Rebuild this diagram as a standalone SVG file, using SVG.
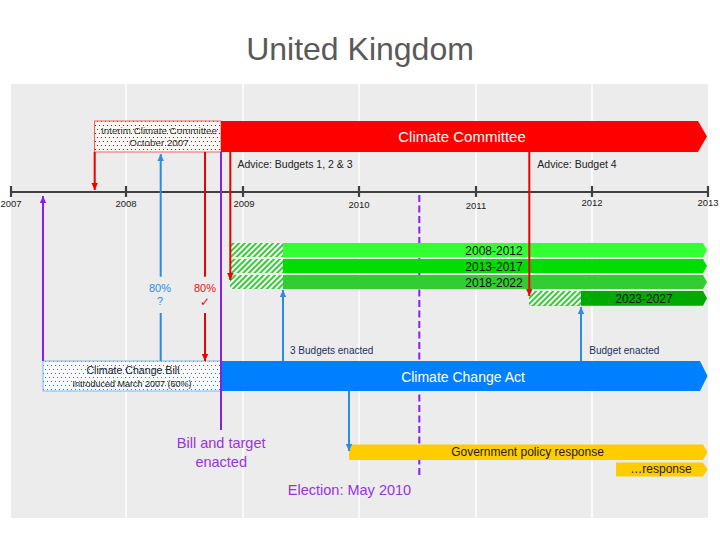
<svg xmlns="http://www.w3.org/2000/svg" width="720" height="540" viewBox="0 0 720 540">
<style>
text{font-family:"Liberation Sans",Arial,sans-serif}
.yr{font-size:9.5px;fill:#222;text-anchor:middle}
.lbl{font-size:10.5px;fill:#222}
.nv{font-size:10px;fill:#1f2f5f}
.grid{stroke:#ffffff;stroke-width:1.5}
.red{stroke:#ee0000;stroke-width:2;fill:none}
.blu{stroke:#2b8ce8;stroke-width:2;fill:none}
.pur{stroke:#8a1ef0;stroke-width:2;fill:none}
.bar{font-size:12px;fill:#111;text-anchor:middle}
.ptxt{font-size:14.5px;fill:#9933e0;text-anchor:middle}
</style>
<defs>
<pattern id="dotR" width="8" height="8" patternUnits="userSpaceOnUse">
<rect width="8" height="8" fill="#fff8f8"/>
<rect x="1" y="1" width="1" height="1" fill="#e00000"/>
<rect x="5" y="1" width="1" height="1" fill="#e00000"/>
<rect x="3" y="5" width="1" height="1" fill="#e00000"/>
<rect x="7" y="5" width="1" height="1" fill="#e00000"/>
</pattern>
<pattern id="dotB" width="8" height="8" patternUnits="userSpaceOnUse">
<rect width="8" height="8" fill="#f8fbff"/>
<rect x="1" y="1" width="1" height="1" fill="#1a7ae0"/>
<rect x="5" y="1" width="1" height="1" fill="#1a7ae0"/>
<rect x="3" y="5" width="1" height="1" fill="#1a7ae0"/>
<rect x="7" y="5" width="1" height="1" fill="#1a7ae0"/>
</pattern>
<pattern id="hatch" width="4" height="4" patternUnits="userSpaceOnUse" patternTransform="rotate(45)">
<rect width="4" height="4" fill="#ffffff"/>
<rect width="2" height="4" fill="#33cc33"/>
</pattern>
<marker id="aR" markerWidth="8" markerHeight="8" refX="7" refY="4" orient="auto" markerUnits="userSpaceOnUse">
<path d="M0,0.8 L7,4 L0,7.2 Z" fill="#ee0000"/>
</marker>
<marker id="aB" markerWidth="8" markerHeight="8" refX="7" refY="4" orient="auto" markerUnits="userSpaceOnUse">
<path d="M0,0.8 L7,4 L0,7.2 Z" fill="#2b8ce8"/>
</marker>
<marker id="aP" markerWidth="8" markerHeight="8" refX="7" refY="4" orient="auto" markerUnits="userSpaceOnUse">
<path d="M0,0.8 L7,4 L0,7.2 Z" fill="#8a1ef0"/>
</marker>
</defs>

<rect width="720" height="540" fill="#ffffff"/>
<text x="360" y="60" font-size="32" fill="#595959" text-anchor="middle">United Kingdom</text>

<g id="background">
<rect x="11" y="84" width="697" height="434" fill="#ececec"/>
<line class="grid" x1="126" y1="84" x2="126" y2="518"/>
<line class="grid" x1="243" y1="84" x2="243" y2="518"/>
<line class="grid" x1="359" y1="84" x2="359" y2="518"/>
<line class="grid" x1="476" y1="84" x2="476" y2="518"/>
<line class="grid" x1="592" y1="84" x2="592" y2="518"/>
</g>

<g id="axis">
<line x1="11" y1="192" x2="708" y2="192" stroke="#404040" stroke-width="2.2"/>
<g stroke="#404040" stroke-width="2.2">
<line x1="11" y1="186" x2="11" y2="197"/>
<line x1="126" y1="186" x2="126" y2="197"/>
<line x1="243" y1="186" x2="243" y2="197"/>
<line x1="359" y1="186" x2="359" y2="197"/>
<line x1="476" y1="186" x2="476" y2="197"/>
<line x1="592" y1="186" x2="592" y2="197"/>
<line x1="708" y1="186" x2="708" y2="197"/>
</g>
<text class="yr" x="11" y="207">2007</text>
<text class="yr" x="126" y="207">2008</text>
<text class="yr" x="244" y="207">2009</text>
<text class="yr" x="359" y="208">2010</text>
<text class="yr" x="476" y="209">2011</text>
<text class="yr" x="592" y="206">2012</text>
<text class="yr" x="708" y="206">2013</text>
</g>

<g id="election-marker">
<line class="pur" x1="419.3" y1="195" x2="419.3" y2="478" stroke-dasharray="7 3.5"/>
</g>

<g id="interim">
<rect x="94.5" y="121" width="126.5" height="31" fill="url(#dotR)" stroke="#f06060" stroke-width="1"/>
<text x="159" y="134" font-size="9.8" fill="#333" text-anchor="middle">Interim Climate Committee</text>
<text x="159" y="146" font-size="9.8" fill="#333" text-anchor="middle">October 2007</text>
</g>

<g id="climate-committee">
<polygon points="221,121 698,121 707,136.5 698,152 221,152" fill="#ff0000"/>
<text x="462" y="142.3" font-size="15" fill="#ffffff" text-anchor="middle">Climate Committee</text>
</g>

<g id="bill">
<rect x="43" y="361" width="178" height="30" fill="url(#dotB)" stroke="#7ab8f0" stroke-width="1"/>
<text x="133" y="374.3" font-size="10.6" fill="#222" text-anchor="middle">Climate Change Bill</text>
<text x="132" y="386.7" font-size="9" fill="#222" text-anchor="middle">Introduced March 2007 (60%)</text>
</g>

<g id="climate-change-act">
<polygon points="221,361 700,361 707.5,376 700,391 221,391" fill="#0080ff"/>
<text x="463" y="381.7" font-size="14" fill="#ffffff" text-anchor="middle">Climate Change Act</text>
</g>

<g id="budget-2008-2012">
<polygon points="230,243 703,243 707,250 703,257 230,257" fill="#33ff33"/>
<rect x="230" y="243" width="53" height="14" fill="url(#hatch)"/>
<text class="bar" x="494" y="255">2008-2012</text>
</g>
<g id="budget-2013-2017">
<polygon points="230,259 703,259 707,266 703,273 230,273" fill="#00dd00"/>
<rect x="230" y="259" width="53" height="14" fill="url(#hatch)"/>
<text class="bar" x="494" y="270.7">2013-2017</text>
</g>
<g id="budget-2018-2022">
<polygon points="230,275 703,275 707,282 703,289 230,289" fill="#33cc33"/>
<rect x="230" y="275" width="53" height="14" fill="url(#hatch)"/>
<text class="bar" x="494" y="286.7">2018-2022</text>
</g>
<g id="budget-2023-2027">
<polygon points="529,291 703,291 707,298.3 703,305.7 529,305.7" fill="#00aa00"/>
<rect x="529" y="291" width="52" height="14.7" fill="url(#hatch)"/>
<text class="bar" x="644" y="302.7">2023-2027</text>
</g>

<g id="gov-response">
<polygon points="349,444.5 703,444.5 707.5,452.2 703,460 349,460" fill="#ffcc00"/>
<text x="527.5" y="456" font-size="12" fill="#222" text-anchor="middle">Government policy response</text>
</g>
<g id="response">
<polygon points="616,462.5 703,462.5 707.5,469.5 703,476.5 616,476.5" fill="#ffcc00"/>
<text x="661" y="473.3" font-size="12" fill="#222" text-anchor="middle">…response</text>
</g>

<g id="connectors">
<line class="red" x1="94.7" y1="152" x2="94.7" y2="190" marker-end="url(#aR)"/>
<line class="blu" x1="160.7" y1="276.7" x2="160.7" y2="154" marker-end="url(#aB)"/>
<line class="blu" x1="160.7" y1="313" x2="160.7" y2="361"/>
<line class="red" x1="205" y1="152" x2="205" y2="276.7"/>
<line class="red" x1="205" y1="313" x2="205" y2="361" marker-end="url(#aR)"/>
<line class="red" x1="230.3" y1="152" x2="230.3" y2="280" marker-end="url(#aR)"/>
<line class="red" x1="529.3" y1="152" x2="529.3" y2="296" marker-end="url(#aR)"/>
<line class="pur" x1="221" y1="152" x2="221" y2="430"/>
<line class="pur" x1="43" y1="361" x2="43" y2="196" marker-end="url(#aP)"/>
<line class="blu" x1="283" y1="361" x2="283" y2="290" marker-end="url(#aB)"/>
<line class="blu" x1="581" y1="361" x2="581" y2="307" marker-end="url(#aB)"/>
<line class="blu" x1="349" y1="391" x2="349" y2="451" marker-end="url(#aB)"/>
</g>

<g id="labels">
<text class="lbl" x="237.5" y="168.3">Advice: Budgets 1, 2 &amp; 3</text>
<text class="lbl" x="537.3" y="168.3">Advice: Budget 4</text>
<text class="nv" x="290" y="354">3 Budgets enacted</text>
<text class="nv" x="589.3" y="354">Budget enacted</text>
<text x="160" y="291.7" font-size="11" fill="#2b8ce8" text-anchor="middle">80%</text>
<text x="160" y="305" font-size="11" fill="#2b8ce8" text-anchor="middle">?</text>
<text x="205" y="291.7" font-size="11" fill="#e81010" text-anchor="middle">80%</text>
<text x="205" y="306" font-size="12" fill="#e81010" text-anchor="middle" font-family="DejaVu Sans, sans-serif">✓</text>
<text class="ptxt" x="221.2" y="448.3">Bill and target</text>
<text class="ptxt" x="221.2" y="467.3">enacted</text>
<text class="ptxt" x="349.5" y="495">Election: May 2010</text>
</g>
</svg>
